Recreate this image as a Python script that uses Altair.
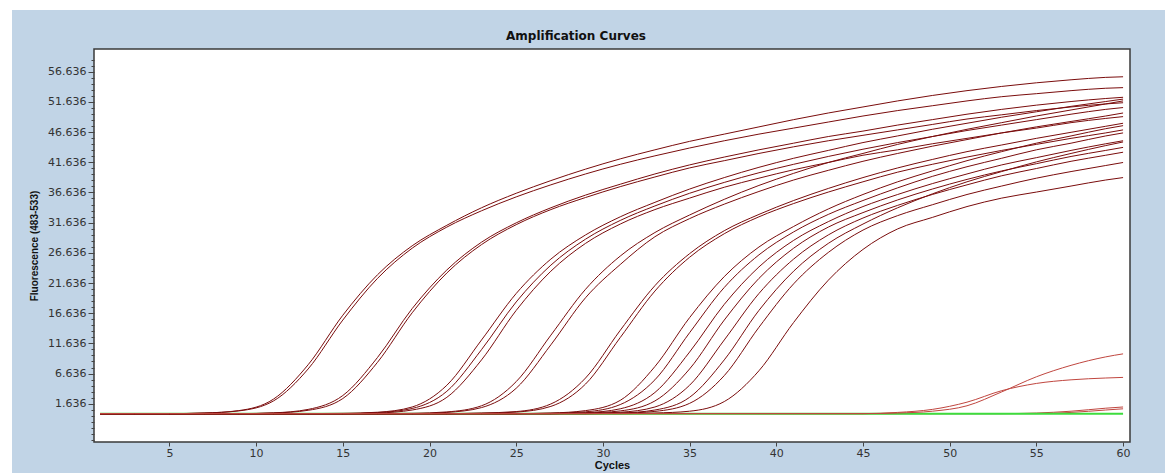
import altair as alt
import pandas as pd

# ---------------- data ----------------
CYCLES = [1, 3, 5, 7, 9, 11, 13, 15, 17, 19, 21, 23, 25, 27, 29, 31, 33, 35, 37, 39,
          41, 43, 45, 47, 49, 51, 53, 55, 57, 59, 60]

A1 = [0, 0, 0, 0.1, 0.5, 2.4, 8.1, 16.3, 23.0, 27.8, 31.2, 34.1, 36.5, 38.6, 40.5, 42.2,
      43.7, 45.1, 46.3, 47.5, 48.7, 49.8, 50.8, 51.8, 52.7, 53.5, 54.2, 54.8, 55.3, 55.7, 55.8]
A2 = [0, 0, 0, 0.1, 0.45, 2.1, 7.4, 15.5, 22.4, 27.4, 30.9, 33.6, 35.9, 37.9, 39.7, 41.3,
      42.7, 44.0, 45.2, 46.3, 47.3, 48.3, 49.3, 50.2, 51.0, 51.8, 52.5, 53.0, 53.5, 53.9, 54.0]
B1 = [0, 0, 0, 0, 0, 0.13, 0.7, 3.0, 9.3, 17.4, 23.8, 28.4, 31.6, 34.1, 36.2, 38.0,
      39.7, 41.2, 42.5, 43.7, 44.8, 45.9, 46.8, 47.8, 48.7, 49.6, 50.4, 51.1, 51.7, 52.2, 52.4]
B2 = [0, 0, 0, 0, 0, 0.1, 0.55, 2.5, 8.5, 16.7, 23.3, 28.0, 31.3, 33.8, 35.8, 37.6,
      39.2, 40.7, 41.9, 43.1, 44.2, 45.2, 46.1, 47.0, 47.9, 48.8, 49.5, 50.2, 50.8, 51.3, 51.5]
C1 = [0, 0, 0, 0, 0, 0, 0, 0.05, 0.23, 1.1, 4.7, 12.2, 19.9, 25.6, 29.6, 32.6,
      35.0, 37.2, 39.1, 40.8, 42.3, 43.6, 44.9, 46.0, 47.1, 48.1, 49.1, 50.0, 50.9, 51.7, 52.1]
C2 = [0, 0, 0, 0, 0, 0, 0, 0, 0.17, 0.85, 3.7, 10.6, 18.5, 24.6, 28.9, 32.0,
      34.4, 36.5, 38.3, 39.9, 41.3, 42.6, 43.8, 44.9, 45.9, 46.9, 47.8, 48.7, 49.6, 50.4, 50.7]
C3 = [0, 0, 0, 0, 0, 0, 0, 0, 0.1, 0.6, 2.7, 8.9, 17.1, 23.6, 28.2, 31.4,
      33.8, 35.7, 37.5, 39.0, 40.4, 41.6, 42.8, 43.7, 44.7, 45.6, 46.5, 47.3, 48.2, 48.9, 49.2]
D1 = [0, 0, 0, 0, 0, 0, 0, 0, 0, 0.05, 0.28, 1.3, 5.3, 13.0, 20.6, 26.1,
      30.0, 32.9, 35.5, 37.8, 39.8, 41.6, 43.1, 44.6, 45.9, 47.1, 48.2, 49.3, 50.3, 51.3, 51.8]
D2 = [0, 0, 0, 0, 0, 0, 0, 0, 0, 0, 0.2, 1.0, 4.2, 11.4, 19.2, 24.7,
      29.3, 32.3, 34.7, 36.8, 38.7, 40.3, 41.8, 43.1, 44.3, 45.4, 46.5, 47.5, 48.4, 49.3, 49.8]
E1 = [0, 0, 0, 0, 0, 0, 0, 0, 0, 0, 0, 0.1, 0.34, 1.6, 5.9, 13.8,
      21.2, 26.5, 30.3, 33.0, 35.3, 37.3, 39.1, 40.7, 42.1, 43.4, 44.5, 45.6, 46.6, 47.6, 48.1]
E2 = [0, 0, 0, 0, 0, 0, 0, 0, 0, 0, 0, 0.05, 0.25, 1.2, 4.9, 12.6,
      20.3, 25.9, 29.8, 32.6, 34.8, 36.7, 38.4, 40.0, 41.3, 42.5, 43.6, 44.6, 45.6, 46.5, 47.0]
F1 = [0, 0, 0, 0, 0, 0, 0, 0, 0, 0, 0, 0, 0, 0.1, 0.5, 2.2,
      7.8, 15.9, 22.7, 27.6, 31.0, 33.9, 36.3, 38.4, 40.2, 41.9, 43.4, 44.8, 46.0, 47.2, 47.7]
F2 = [0, 0, 0, 0, 0, 0, 0, 0, 0, 0, 0, 0, 0, 0.06, 0.3, 1.5,
      5.6, 13.4, 20.9, 26.3, 30.1, 33.0, 35.3, 37.4, 39.3, 40.9, 42.3, 43.7, 44.8, 46.0, 46.5]
F3 = [0, 0, 0, 0, 0, 0, 0, 0, 0, 0, 0, 0, 0, 0, 0.15, 0.8,
      3.5, 10.2, 18.1, 24.3, 28.7, 31.8, 34.3, 36.3, 38.1, 39.7, 41.2, 42.4, 43.6, 44.7, 45.2]
F4 = [0, 0, 0, 0, 0, 0, 0, 0, 0, 0, 0, 0, 0, 0, 0.1, 0.45,
      2.1, 7.4, 15.5, 22.4, 27.4, 30.9, 33.3, 35.4, 37.2, 38.8, 40.2, 41.4, 42.6, 43.6, 44.1]
G1 = [0, 0, 0, 0, 0, 0, 0, 0, 0, 0, 0, 0, 0, 0, 0.05, 0.23,
      1.1, 4.7, 12.2, 19.9, 25.6, 29.6, 32.4, 34.5, 36.3, 37.9, 39.4, 40.6, 41.8, 42.8, 43.3]
G2 = [0, 0, 0, 0, 0, 0, 0, 0, 0, 0, 0, 0, 0, 0, 0, 0.1,
      0.6, 2.7, 8.9, 17.1, 23.6, 28.2, 31.4, 34.1, 36.4, 38.4, 40.1, 41.7, 43.1, 44.4, 45.0]
G3 = [0, 0, 0, 0, 0, 0, 0, 0, 0, 0, 0, 0, 0, 0, 0, 0.07,
      0.37, 1.7, 6.3, 14.3, 21.5, 26.7, 30.4, 32.8, 34.6, 36.3, 37.7, 39.0, 40.1, 41.1, 41.6]
G4 = [0, 0, 0, 0, 0, 0, 0, 0, 0, 0, 0, 0, 0, 0, 0, 0,
      0.1, 0.4, 2.0, 7.1, 15.1, 22.1, 27.2, 30.6, 32.5, 34.3, 35.7, 36.7, 37.7, 38.7, 39.1]

# late (lighter red) curves and the flat green control
L1 = [0, 0, 0, 0, 0, 0, 0, 0, 0, 0, 0, 0, 0, 0, 0, 0,
      0, 0, 0, 0, 0, 0, 0, 0.1, 0.4, 1.3, 3.6, 6.1, 8.0, 9.4, 9.9]
L2 = [0, 0, 0, 0, 0, 0, 0, 0, 0, 0, 0, 0, 0, 0, 0, 0,
      0, 0, 0, 0, 0, 0, 0, 0.2, 0.7, 1.9, 3.8, 5.0, 5.6, 5.9, 6.0]
L3 = [0, 0, 0, 0, 0, 0, 0, 0, 0, 0, 0, 0, 0, 0, 0, 0,
      0, 0, 0, 0, 0, 0, 0, 0, 0, 0, 0, 0.1, 0.4, 0.9, 1.1]
L4 = [0, 0, 0, 0, 0, 0, 0, 0, 0, 0, 0, 0, 0, 0, 0, 0,
      0, 0, 0, 0, 0, 0, 0, 0, 0, 0, 0, 0.0, 0.2, 0.6, 0.8]
GREEN = [0, 0, 0, 0, 0, 0, 0, 0, 0, 0, 0, 0, 0, 0, 0, 0,
         0, 0, 0, 0, 0, 0, 0, 0, 0, 0, 0, 0, 0, 0, 0]

DARK = {"A1": A1, "A2": A2, "B1": B1, "B2": B2, "C1": C1, "C2": C2, "C3": C3,
        "D1": D1, "D2": D2, "E1": E1, "E2": E2, "F1": F1, "F2": F2, "F3": F3,
        "F4": F4, "G1": G1, "G2": G2, "G3": G3, "G4": G4}
LATE_LOW = {"L3": L3, "L4": L4}
LATE_HIGH = {"L1": L1, "L2": L2}
CONTROL = {"NC": GREEN}

TITLE = "Amplification Curves"
X_TITLE = "Cycles"
Y_TITLE = "Fluorescence (483-533)"
X_TICKS = [5, 10, 15, 20, 25, 30, 35, 40, 45, 50, 55, 60]
Y_TICKS = [round(-4.364 + i, 3) for i in range(64)]   # minor every 1, labelled every 5 from 1.636
X_DOMAIN = [0.65, 60.4]
Y_DOMAIN = [-4.7, 60.4]

BLUE = "#C1D4E6"
DARK_RED = "#7a0c0c"
LIGHT_RED = "#c0463f"
GREEN_C = "#3ddc3d"


def frame(series):
    rows = []
    for name, vals in series.items():
        for c, v in zip(CYCLES, vals):
            rows.append({"cycle": c, "value": v, "series": name})
    return pd.DataFrame(rows)


MAJOR_TEST = ("datum.value > 1 && abs((datum.value - 1.636) / 5 - "
              "round((datum.value - 1.636) / 5)) < 0.01")

x_axis = alt.Axis(values=X_TICKS, title=X_TITLE, tickSize=4, tickColor="#444",
                  labelFont="DejaVu Sans", labelFontSize=11, labelColor="#333",
                  labelPadding=1, titleFont="Liberation Sans", titleFontWeight="bold",
                  titleFontSize=11, titleColor="#111", titlePadding=1, domain=False,
                  grid=False, labelFlush=False)
y_axis = alt.Axis(values=Y_TICKS, title=Y_TITLE,
                  labelExpr="(" + MAJOR_TEST + ") ? format(datum.value, '.3f') : ''",
                  tickSize={"condition": {"test": MAJOR_TEST, "value": 6}, "value": 3},
                  tickColor="#444", labelFont="DejaVu Sans", labelFontSize=11,
                  labelColor="#333", labelPadding=2, labelOverlap=False, labelFlush=False,
                  titleFont="Liberation Sans", titleFontWeight="bold", titleFontSize=10,
                  titleColor="#111", titlePadding=8, domain=False, grid=False)

x_enc = alt.X("cycle:Q", scale=alt.Scale(domain=X_DOMAIN, nice=False, zero=False), axis=x_axis)
y_enc = alt.Y("value:Q", scale=alt.Scale(domain=Y_DOMAIN, nice=False, zero=False), axis=y_axis)


def lines(series, color, width):
    return alt.Chart(frame(series)).mark_line(
        interpolate="monotone", color=color, strokeWidth=width
    ).encode(x=x_enc, y=y_enc, detail="series:N")


one = pd.DataFrame({"k": [0]})
top_strip = alt.Chart(one).mark_rect(color="white").encode(
    x=alt.value(-94), x2=alt.value(1071), y=alt.value(-49), y2=alt.value(-39))
left_strip = alt.Chart(one).mark_rect(color="white").encode(
    x=alt.value(-94), x2=alt.value(-82), y=alt.value(-49), y2=alt.value(424))
title_text = alt.Chart(one).mark_text(
    text=TITLE, font="DejaVu Sans", fontSize=12, fontWeight="bold", color="#111",
    align="center", baseline="middle"
).encode(x=alt.value(482), y=alt.value(-13))

chart = alt.layer(
    top_strip,
    left_strip,
    title_text,
    lines(LATE_LOW, LIGHT_RED, 1),
    lines(CONTROL, GREEN_C, 2),
    lines(DARK, DARK_RED, 1),
    lines(LATE_HIGH, LIGHT_RED, 1),
).properties(
    width=1036,
    height=393,
    autosize=alt.AutoSizeParams(type="none"),
    padding={"left": 94, "top": 49, "right": 35, "bottom": 31},
    background=BLUE,
).configure_view(fill="white", stroke="#3a3a3a", strokeWidth=1.5)

chart.save("out.html", embed_options={"renderer": "svg", "actions": False})
